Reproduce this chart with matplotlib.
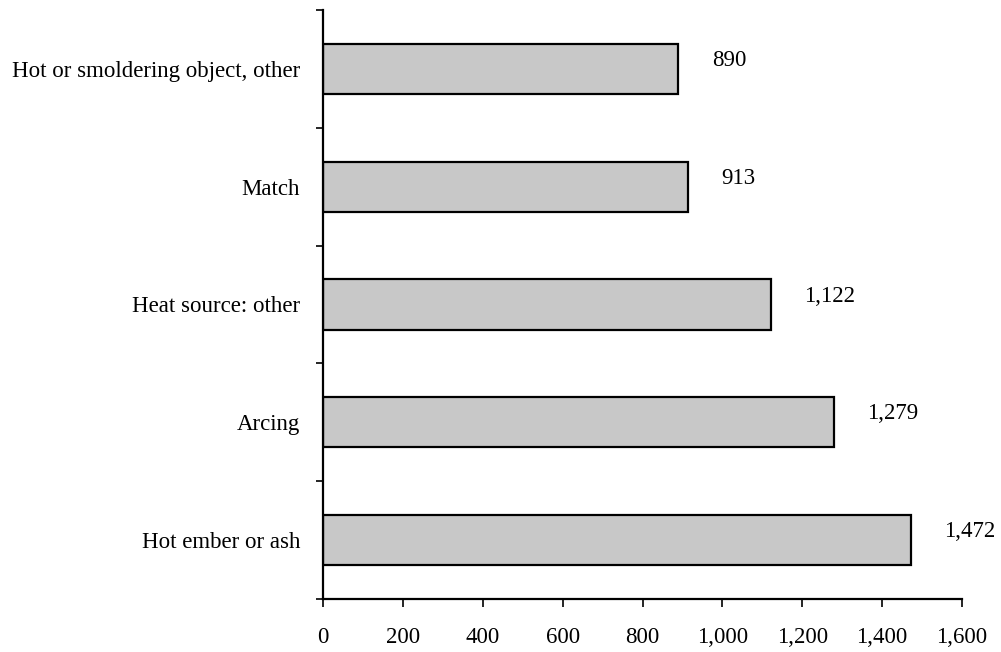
import numpy as np
import matplotlib.pyplot as plt
from matplotlib.ticker import FuncFormatter

plt.rcParams['font.family'] = ['Liberation Serif', 'DejaVu Serif']

# bottom to top
causes = ["Hot ember or ash", "Arcing", "Heat source: other", "Match",
          "Hot or smoldering object, other"]
counts = [1472, 1279, 1122, 913, 890]
xticks = [0, 200, 400, 600, 800, 1000, 1200, 1400, 1600]

fig = plt.figure(figsize=(10.01, 6.52), dpi=100)
ax = fig.add_axes([323 / 1001, 1 - 599 / 652, 639 / 1001, 589 / 652])

y = np.arange(len(causes))
ax.barh(y, counts, height=0.425, color="#c8c8c8", edgecolor="black", linewidth=1.6)

for yi, v in zip(y, counts):
    ax.annotate(f"{v:,}", xy=(v, yi), xytext=(24, 6), textcoords="offset points",
                ha="left", va="center", fontsize=16.5)

ax.set_xlim(0, 1600)
ax.set_ylim(-0.5, len(causes) - 0.5)
ax.set_xticks(xticks)
ax.xaxis.set_major_formatter(FuncFormatter(lambda v, p: f"{int(v):,}"))

# ticks at category boundaries, labels at centres
ax.set_yticks(np.arange(len(causes) + 1) - 0.5)
ax.set_yticklabels([])
ax.set_yticks(y, minor=True)
ax.set_yticklabels(causes, minor=True)
ax.tick_params(axis="y", which="major", length=5, width=1.2, direction="out")
ax.tick_params(axis="y", which="minor", length=0, pad=16.5, labelsize=16.5)
ax.tick_params(axis="x", length=6, width=1.2, direction="out", pad=14, labelsize=16.5)

for s in ["top", "right"]:
    ax.spines[s].set_visible(False)
for s in ["left", "bottom"]:
    ax.spines[s].set_linewidth(1.6)

fig.savefig("out.png", dpi=100)
